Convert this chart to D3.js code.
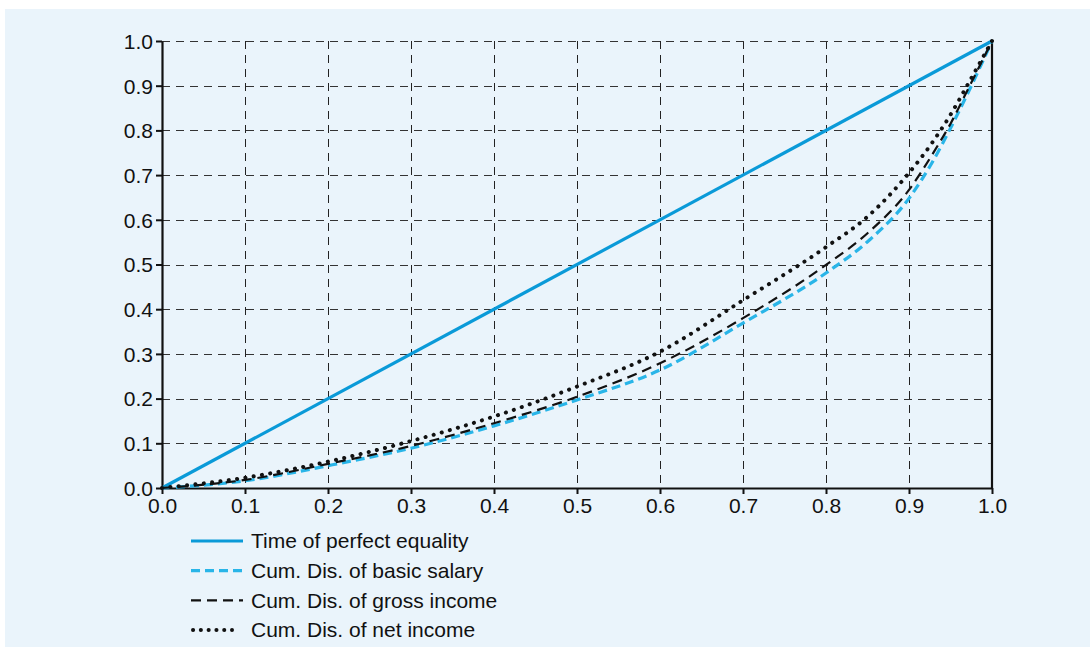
<!DOCTYPE html>
<html><head><meta charset="utf-8">
<script src="https://cdn.jsdelivr.net/npm/d3@7"></script>
<style>body{margin:0;background:#fff;}svg{display:block;}</style>
</head><body>
<svg id="c" width="1090" height="647"></svg>
<script>
const xTicks = [0,0.1,0.2,0.3,0.4,0.5,0.6,0.7,0.8,0.9,1.0];
const yTicks = [0,0.1,0.2,0.3,0.4,0.5,0.6,0.7,0.8,0.9,1.0];
const xs = [0,0.1,0.2,0.3,0.4,0.5,0.6,0.7,0.8,0.85,0.9,0.93,0.95,0.97,1.0];
const equality = [0,1];
const basicSalary = [0,0.016,0.050,0.089,0.139,0.197,0.264,0.369,0.481,0.551,0.648,0.735,0.805,0.88,1.0];
const grossIncome = [0,0.018,0.054,0.094,0.145,0.204,0.279,0.380,0.499,0.570,0.667,0.752,0.815,0.888,1.0];
const netIncome = [0,0.023,0.059,0.105,0.160,0.227,0.305,0.420,0.539,0.607,0.705,0.778,0.835,0.900,1.0];
const legendLabels = ["Time of perfect equality","Cum. Dis. of basic salary","Cum. Dis. of gross income","Cum. Dis. of net income"];

const svg = d3.select("#c");
svg.append("rect").attr("x",5).attr("y",9).attr("width",1085).attr("height",638).attr("fill","#eaf4fb");

const x = d3.scaleLinear().domain([0,1]).range([162,992]);
const y = d3.scaleLinear().domain([0,1]).range([488,41]);
const font = "'Liberation Sans', Arial, sans-serif";

// grid
const g = svg.append("g");
g.selectAll(".vg").data(xTicks.slice(1,-1)).join("line")
  .attr("x1",d=>Math.round(x(d))+0.5).attr("x2",d=>Math.round(x(d))+0.5)
  .attr("y1",y(1)).attr("y2",y(0))
  .attr("stroke","#222").attr("stroke-width",1).attr("stroke-dasharray","8,6");
g.selectAll(".hg").data(yTicks.slice(1)).join("line")
  .attr("x1",x(0)).attr("x2",x(1))
  .attr("y1",d=>Math.round(y(d))+0.5).attr("y2",d=>Math.round(y(d))+0.5)
  .attr("stroke","#333").attr("stroke-width",1).attr("stroke-dasharray","8,6");

// axes
const xAxis = d3.axisBottom(x).tickValues(xTicks).tickFormat(d3.format(".1f")).tickSize(6).tickSizeOuter(0);
const yAxis = d3.axisLeft(y).tickValues(yTicks).tickFormat(d3.format(".1f")).tickSize(6).tickSizeOuter(0);
const ax = svg.append("g").attr("transform",`translate(0,${y(0)})`).call(xAxis);
const ay = svg.append("g").attr("transform",`translate(${x(0)},0)`).call(yAxis);
[ax,ay].forEach(a=>{
  a.select(".domain").attr("stroke","#111").attr("stroke-width",2.2);
  a.selectAll(".tick line").attr("stroke","#111").attr("stroke-width",2);
  a.selectAll(".tick text").attr("fill","#111").style("font-family",font).style("font-size","21px");
});
ax.selectAll(".tick text").attr("y",7).attr("dy","0.85em");
ay.selectAll(".tick text").attr("x",-9).attr("dy","0.35em");
// right axis line
svg.append("line").attr("x1",x(1)).attr("x2",x(1)).attr("y1",y(1)).attr("y2",y(0))
  .attr("stroke","#111").attr("stroke-width",2.2);

const line = d3.line().x(d=>x(d[0])).y(d=>y(d[1])).curve(d3.curveMonotoneX);
const series = [
  {vals: equality, xv:[0,1], color:"#0a9ad8", w:3.2, dash:null, lx2:243},
  {vals: basicSalary, xv:xs, color:"#29b5e8", w:3.2, dash:"9,5", lx2:243},
  {vals: grossIncome, xv:xs, color:"#111", w:2.2, dash:"10,6", lx2:243},
  {vals: netIncome, xv:xs, color:"#111", w:4, dash:"0.1,8.3", cap:"round", lx2:232}
];
series.forEach(s=>{
  svg.append("path").datum(s.xv.map((xx,i)=>[xx,s.vals[i]]))
    .attr("d",line).attr("fill","none").attr("stroke",s.color).attr("stroke-width",s.w)
    .attr("stroke-dasharray",s.dash).attr("stroke-linecap",s.cap||"butt");
});

// legend
const lg = svg.append("g");
legendLabels.forEach((lab,i)=>{
  const yy = 541 + i*29.7;
  const s = series[i];
  lg.append("line").attr("x1",i===3?193:191).attr("x2",s.lx2).attr("y1",yy).attr("y2",yy)
    .attr("stroke",s.color).attr("stroke-width",s.w).attr("stroke-dasharray",i===3?"0.1,7.7":s.dash)
    .attr("stroke-linecap",s.cap||"butt");
  lg.append("text").attr("x",251).attr("y",yy).attr("dy","0.35em").text(lab)
    .attr("fill","#111").style("font-family",font).style("font-size","21px");
});
</script>
</body></html>
